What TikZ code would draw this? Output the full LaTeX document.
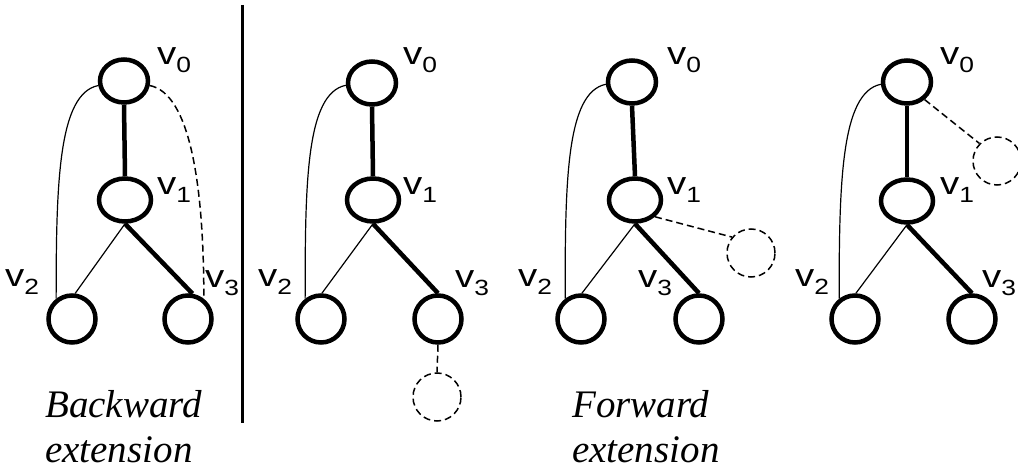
\documentclass[tikz,border=0pt]{standalone}
\usepackage{fontspec}
\setmainfont{Liberation Serif}
\newfontfamily\labfont[FakeStretch=1.2]{Liberation Sans}
\usetikzlibrary{shapes.geometric}
\newcommand{\vlab}[1]{{\labfont\fontsize{32}{32}\selectfont v\raisebox{-8pt}{\fontsize{22}{22}\selectfont #1}}}
\tikzset{
  topnode/.style={draw, ellipse, line width=4.5pt, minimum width=48pt, minimum height=43pt, inner sep=0pt},
  midnode/.style={draw, ellipse, line width=4.5pt, minimum width=52pt, minimum height=43pt, inner sep=0pt},
  leafnode/.style={draw, circle, line width=4.5pt, minimum size=47pt, inner sep=0pt},
  extnode/.style={draw, circle, line width=1.5pt, dash pattern=on 7pt off 4pt, minimum size=48pt, inner sep=0pt},
  heavy/.style={line width=4.5pt},
  light/.style={line width=1.2pt},
  dashedge/.style={line width=1.5pt, dash pattern=on 7pt off 4pt},
  lbl/.style={anchor=base west, inner sep=0pt},
  caption/.style={anchor=base west, align=left, inner sep=0pt, font=\itshape\fontsize{39}{45}\selectfont}
}
\begin{document}
\begin{tikzpicture}[x=1pt,y=-1pt]
\clip (0,0) rectangle (1018,470);
\fill[white] (0,0) rectangle (1018,470);

% divider
\coordinate (divtop) at (242,5);
\coordinate (divbot) at (242,423);
\draw[line width=3pt] (divtop) -- (divbot);

% ---------- tree 1 (backward)
\node[topnode] (a0) at (124,81) {};
\node[midnode] (a1) at (125,200) {};
\node[leafnode] (a2) at (72,319) {};
\node[leafnode] (a3) at (188,319) {};
\draw[heavy] (a0.south) -- (a1.north);
\draw[light] (a1.south) -- (a2.83);
\draw[heavy] (a1.south) -- (a3.80);
\draw[light] (a0.190) .. controls +(-40,8) and +(0,-115) .. (a2.128);
\draw[dashedge] (a0.-10) .. controls +(40,8) and +(0,-115) .. (a3.52);
\node[lbl] (la0) at (157,65) {\vlab{0}};
\node[lbl] (la1) at (157,195) {\vlab{1}};
\node[lbl] (la2) at (5,287) {\vlab{2}};
\node[lbl] (la3) at (205,288) {\vlab{3}};
\node[caption] (capb) at (45,462) {Backward\\extension};

% ---------- tree 2
\node[topnode] (b0) at (372,83) {};
\node[midnode] (b1) at (373,200) {};
\node[leafnode] (b2) at (321,319) {};
\node[leafnode] (b3) at (438,319) {};
\node[extnode] (bx) at (437,397) {};
\draw[heavy] (b0.south) -- (b1.north);
\draw[light] (b1.south) -- (b2.88);
\draw[heavy] (b1.south) -- (b3.north);
\draw[light] (b0.185) .. controls +(-40,8) and +(0,-115) .. (b2.128);
\draw[dashedge] (b3.south) -- (bx.north);
\node[lbl] (lb0) at (403,65) {\vlab{0}};
\node[lbl] (lb1) at (403,195) {\vlab{1}};
\node[lbl] (lb2) at (258,287) {\vlab{2}};
\node[lbl] (lb3) at (455,288) {\vlab{3}};

% ---------- tree 3
\node[topnode] (c0) at (632,82) {};
\node[midnode] (c1) at (635,200) {};
\node[leafnode] (c2) at (581,319) {};
\node[leafnode] (c3) at (699,319) {};
\node[extnode] (cx) at (751,253) {};
\draw[heavy] (c0.south) -- (c1.north);
\draw[light] (c1.south) -- (c2.88);
\draw[heavy] (c1.south) -- (c3.north);
\draw[light] (c0.185) .. controls +(-40,8) and +(0,-115) .. (c2.128);
\draw[dashedge] (c1.-40) -- (cx.140);
\node[lbl] (lc0) at (667,65) {\vlab{0}};
\node[lbl] (lc1) at (667,195) {\vlab{1}};
\node[lbl] (lc2) at (518,287) {\vlab{2}};
\node[lbl] (lc3) at (638,288) {\vlab{3}};
\node[caption] (capf) at (572,462) {Forward\\extension};

% ---------- tree 4
\node[topnode] (d0) at (907,82) {};
\node[midnode] (d1) at (907,201) {};
\node[leafnode] (d2) at (855,319) {};
\node[leafnode] (d3) at (972,319) {};
\node[extnode] (dx) at (997,161) {};
\draw[heavy] (d0.south) -- (d1.north);
\draw[light] (d1.south) -- (d2.88);
\draw[heavy] (d1.south) -- (d3.north);
\draw[light] (d0.185) .. controls +(-40,8) and +(0,-115) .. (d2.128);
\draw[dashedge] (d0.-45) -- (dx.135);
\node[lbl] (ld0) at (940,65) {\vlab{0}};
\node[lbl] (ld1) at (940,195) {\vlab{1}};
\node[lbl] (ld2) at (795,287) {\vlab{2}};
\node[lbl] (ld3) at (982,288) {\vlab{3}};
\end{tikzpicture}
\end{document}
